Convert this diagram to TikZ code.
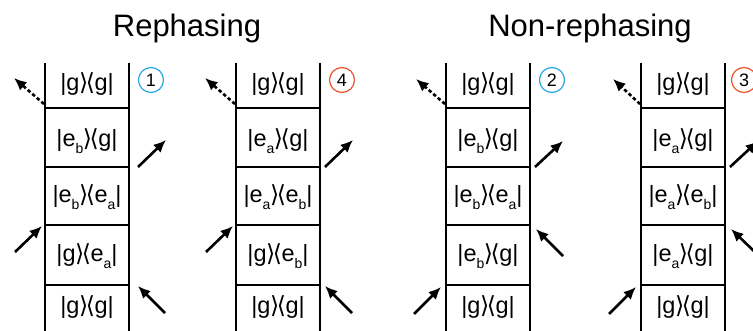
\documentclass[tikz,border=0pt]{standalone}
\usepackage{fontspec}
\setmainfont{Liberation Sans}
\newfontfamily\dejavu{DejaVu Sans}
\usetikzlibrary{arrows.meta}
\definecolor{cblue}{HTML}{2AA7E0}
\definecolor{cred}{HTML}{E8532B}
\newcommand{\lsub}[1]{\raisebox{-7pt}{\fontsize{14}{14}\selectfont #1}}
\newcommand{\kb}[2]{|#1{\dejavu\kern-0.02em\symbol{"27E9}\kern-0.1em\symbol{"27E8}\kern-0.02em}#2|}
\begin{document}
\begin{tikzpicture}[x=1pt,y=-1pt,
  rail/.style={line width=1.9pt},
  rung/.style={line width=1.9pt},
  ket/.style={font=\fontsize{23.5}{26}\selectfont, inner sep=0pt, anchor=base},
  beam/.style={line width=2.6pt, -{Latex[length=12.5pt,width=11pt]}},
  signal/.style={beam, dash pattern=on 3.5pt off 2.5pt},
  num/.style={circle, draw=#1, line width=1.2pt, minimum size=25pt, inner sep=0pt, font=\fontsize{18}{18}\selectfont},
  title/.style={font=\fontsize{31}{33}\selectfont, inner sep=0pt, anchor=base}]
\useasboundingbox (0,0) rectangle (753,331);
\node[title] (t1) at (187,37) {Rephasing};
\node[title] (t2) at (590,37) {Non-rephasing};
% ---------------- panel 1 ----------------
\draw[rail] (45,63) -- (45,336) (129,63) -- (129,336);
\draw[rung] (45,108) -- (129,108) (45,167) -- (129,167) (45,225) -- (129,225) (45,285) -- (129,285);
\node[ket] (p1a) at (87,91) {\kb{g}{g}};
\node[ket] (p1b) at (87,147) {\kb{e\lsub{b}}{g}};
\node[ket] (p1c) at (87,203) {\kb{e\lsub{b}}{e\lsub{a}}};
\node[ket] (p1d) at (87,262) {\kb{g}{e\lsub{a}}};
\node[ket] (p1e) at (87,314) {\kb{g}{g}};
\node[num=cblue] (n1) at (151,80) {1};
\coordinate (p1s0) at (44,104); \coordinate (p1s1) at (14,78);
\coordinate (p1r0) at (138,167); \coordinate (p1r1) at (166,140);
\coordinate (p1l0) at (15,252); \coordinate (p1l1) at (42,226);
\coordinate (p1q0) at (165,313); \coordinate (p1q1) at (138,286);
\draw[signal] (p1s0) -- (p1s1);
\draw[beam] (p1r0) -- (p1r1);
\draw[beam] (p1l0) -- (p1l1);
\draw[beam] (p1q0) -- (p1q1);
% ---------------- panel 4 ----------------
\draw[rail] (236,63) -- (236,336) (320,63) -- (320,336);
\draw[rung] (236,108) -- (320,108) (236,167) -- (320,167) (236,225) -- (320,225) (236,285) -- (320,285);
\node[ket] (p4a) at (278,91) {\kb{g}{g}};
\node[ket] (p4b) at (278,147) {\kb{e\lsub{a}}{g}};
\node[ket] (p4c) at (278,203) {\kb{e\lsub{a}}{e\lsub{b}}};
\node[ket] (p4d) at (278,262) {\kb{g}{e\lsub{b}}};
\node[ket] (p4e) at (278,314) {\kb{g}{g}};
\node[num=cred] (n4) at (342,80) {4};
\coordinate (p4s0) at (235,104); \coordinate (p4s1) at (205,78);
\coordinate (p4r0) at (325,167); \coordinate (p4r1) at (353,140);
\coordinate (p4l0) at (206,252); \coordinate (p4l1) at (233,226);
\coordinate (p4q0) at (352,313); \coordinate (p4q1) at (325,286);
\draw[signal] (p4s0) -- (p4s1);
\draw[beam] (p4r0) -- (p4r1);
\draw[beam] (p4l0) -- (p4l1);
\draw[beam] (p4q0) -- (p4q1);
% ---------------- panel 2 ----------------
\draw[rail] (446,63) -- (446,336) (530,63) -- (530,336);
\draw[rung] (446,108) -- (530,108) (446,167) -- (530,167) (446,225) -- (530,225) (446,285) -- (530,285);
\node[ket] (p2a) at (488,91) {\kb{g}{g}};
\node[ket] (p2b) at (488,147) {\kb{e\lsub{b}}{g}};
\node[ket] (p2c) at (488,203) {\kb{e\lsub{b}}{e\lsub{a}}};
\node[ket] (p2d) at (488,262) {\kb{e\lsub{b}}{g}};
\node[ket] (p2e) at (488,314) {\kb{g}{g}};
\node[num=cblue] (n2) at (552,80) {2};
\coordinate (p2s0) at (445,104); \coordinate (p2s1) at (416,79);
\coordinate (p2r0) at (535,167); \coordinate (p2r1) at (563,141);
\coordinate (p2m0) at (563,256); \coordinate (p2m1) at (536,229);
\coordinate (p2q0) at (414,314); \coordinate (p2q1) at (441,287);
\draw[signal] (p2s0) -- (p2s1);
\draw[beam] (p2r0) -- (p2r1);
\draw[beam] (p2m0) -- (p2m1);
\draw[beam] (p2q0) -- (p2q1);
% ---------------- panel 3 ----------------
\draw[rail] (641,63) -- (641,336) (725,63) -- (725,336);
\draw[rung] (641,108) -- (725,108) (641,167) -- (725,167) (641,225) -- (725,225) (641,285) -- (725,285);
\node[ket] (p3a) at (683,91) {\kb{g}{g}};
\node[ket] (p3b) at (683,147) {\kb{e\lsub{a}}{g}};
\node[ket] (p3c) at (683,203) {\kb{e\lsub{a}}{e\lsub{b}}};
\node[ket] (p3d) at (683,262) {\kb{e\lsub{a}}{g}};
\node[ket] (p3e) at (683,314) {\kb{g}{g}};
\node[num=cred] (n3) at (744,80) {3};
\coordinate (p3s0) at (640,104); \coordinate (p3s1) at (613,79);
\coordinate (p3r0) at (730,167); \coordinate (p3r1) at (758,141);
\coordinate (p3m0) at (758,255); \coordinate (p3m1) at (731,229);
\coordinate (p3q0) at (609,314); \coordinate (p3q1) at (636,287);
\draw[signal] (p3s0) -- (p3s1);
\draw[beam] (p3r0) -- (p3r1);
\draw[beam] (p3m0) -- (p3m1);
\draw[beam] (p3q0) -- (p3q1);
\end{tikzpicture}
\end{document}
